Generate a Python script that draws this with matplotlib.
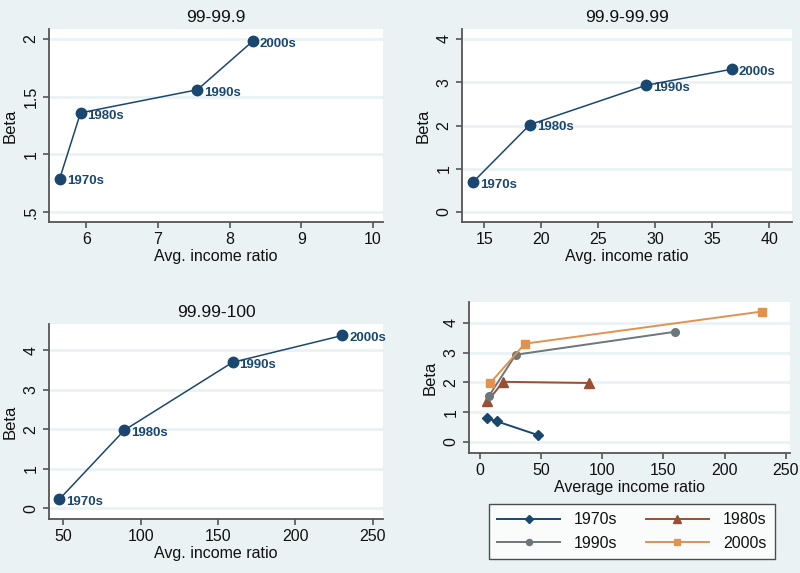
import matplotlib
matplotlib.use("Agg")
import matplotlib.pyplot as plt

plt.rcParams['font.family'] = ['Liberation Sans', 'DejaVu Sans']

decades = ["1970s", "1980s", "1990s", "2000s"]
groups = ["99-99.9", "99.9-99.99", "99.99-100"]

ratio_99_999 = [5.63, 5.92, 7.55, 8.32]
beta_99_999 = [0.79, 1.36, 1.56, 1.98]
ratio_999_9999 = [14.0, 19.0, 29.2, 36.7]
beta_999_9999 = [0.69, 2.02, 2.93, 3.30]
ratio_9999_100 = [47.5, 89.5, 159.5, 230.5]
beta_9999_100 = [0.23, 1.98, 3.70, 4.38]

xticks_1 = [6, 7, 8, 9, 10]
yticks_1 = [0.5, 1, 1.5, 2]
yticklabels_1 = [".5", "1", "1.5", "2"]
xticks_2 = [15, 20, 25, 30, 35, 40]
yticks_2 = [0, 1, 2, 3, 4]
xticks_3 = [50, 100, 150, 200, 250]
yticks_3 = [0, 1, 2, 3, 4]
xticks_4 = [0, 50, 100, 150, 200, 250]
yticks_4 = [0, 1, 2, 3, 4]

BG = "#eaf2f3"
NAVY = "#1a476f"
AX = "#555555"
TXT = "#111111"

W, H = 800, 573
fig = plt.figure(figsize=(W / 100, H / 100), dpi=100, facecolor=BG)


def add_ax(x0, y0, x1, y1):
    return fig.add_axes([x0 / W, 1 - y1 / H, (x1 - x0) / W, (y1 - y0) / H])


def style(ax, xticks, yticks, yticklabels=None):
    ax.set_facecolor("white")
    for s in ["top", "right"]:
        ax.spines[s].set_visible(False)
    for s in ["left", "bottom"]:
        ax.spines[s].set_color(AX)
        ax.spines[s].set_linewidth(1.3)
    ax.set_xticks(xticks)
    ax.set_yticks(yticks)
    if yticklabels is not None:
        ax.set_yticklabels(yticklabels)
    ax.tick_params(axis="both", direction="out", length=4, width=1.2,
                   color=AX, labelsize=11.5, labelcolor=TXT)
    for lab in ax.get_yticklabels():
        lab.set_rotation(90)
        lab.set_va("center")
    ax.yaxis.grid(True, color=BG, linewidth=2)
    ax.set_axisbelow(True)
    ax.set_ylabel("Beta", fontsize=12, color=TXT, labelpad=4)


def panel(ax, xs, ys, title, xlabel="Avg. income ratio"):
    ax.plot(xs, ys, color=NAVY, lw=1.1, marker="o", ms=7.5,
            mfc=NAVY, mec=NAVY, zorder=3)
    for x, y, d in zip(xs, ys, decades):
        ax.annotate(d, (x, y), xytext=(5, -2), textcoords="offset points",
                    va="center", ha="left", fontsize=9.5, fontweight="bold",
                    color=NAVY, zorder=4)
    ax.set_title(title, fontsize=12.5, color=TXT, pad=5)
    ax.set_xlabel(xlabel, fontsize=11.5, color=TXT, labelpad=1)


ax1 = add_ax(49, 29, 383, 222)
style(ax1, xticks_1, yticks_1, yticklabels_1)
panel(ax1, ratio_99_999, beta_99_999, groups[0])
ax1.set_xlim(5.48, 10.14)
ax1.set_ylim(0.413, 2.087)

ax2 = add_ax(462, 29, 792, 222)
style(ax2, xticks_2, yticks_2)
panel(ax2, ratio_999_9999, beta_999_9999, groups[1])
ax2.set_xlim(13.04, 42.0)
ax2.set_ylim(-0.23, 4.23)

ax3 = add_ax(49, 324, 383, 519)
style(ax3, xticks_3, yticks_3)
panel(ax3, ratio_9999_100, beta_9999_100, groups[2])
ax3.set_xlim(40.8, 256.7)
ax3.set_ylim(-0.27, 4.67)

ax4 = add_ax(469, 302, 790, 453)
style(ax4, xticks_4, yticks_4)
ax4.set_xlabel("Average income ratio", fontsize=11.5, color=TXT, labelpad=1)
all_x = [ratio_99_999, ratio_999_9999, ratio_9999_100]
all_y = [beta_99_999, beta_999_9999, beta_9999_100]
series_style = [
    dict(color=NAVY, marker="D", ms=5.5),
    dict(color="#9a4f33", marker="^", ms=6.5),
    dict(color="#6b777a", marker="o", ms=5.5),
    dict(color="#e0924e", marker="s", ms=6),
]
handles = []
for i, d in enumerate(decades):
    xs = [g[i] for g in all_x]
    ys = [g[i] for g in all_y]
    st = series_style[i]
    h, = ax4.plot(xs, ys, color=st["color"], lw=1.4, marker=st["marker"],
                  ms=st["ms"], mfc=st["color"], mec=st["color"], label=d,
                  zorder=3)
    handles.append(h)
ax4.set_xlim(-9, 253.5)
ax4.set_ylim(-0.37, 4.70)

order = [0, 2, 1, 3]
leg = fig.legend(handles=[handles[i] for i in order],
                 labels=[decades[i] for i in order], ncol=2,
                 loc="center", bbox_to_anchor=(632 / W, 1 - 531.5 / H),
                 frameon=True, fancybox=False, fontsize=11.5,
                 handlelength=3.9, columnspacing=1.8, handletextpad=0.9,
                 borderpad=0.5, labelspacing=0.55, markerscale=0.8)
leg.get_frame().set_edgecolor("#222222")
leg.get_frame().set_linewidth(1.0)
leg.get_frame().set_facecolor("white")
for t in leg.get_texts():
    t.set_color(TXT)

fig.savefig("out.png", dpi=100, facecolor=BG)
